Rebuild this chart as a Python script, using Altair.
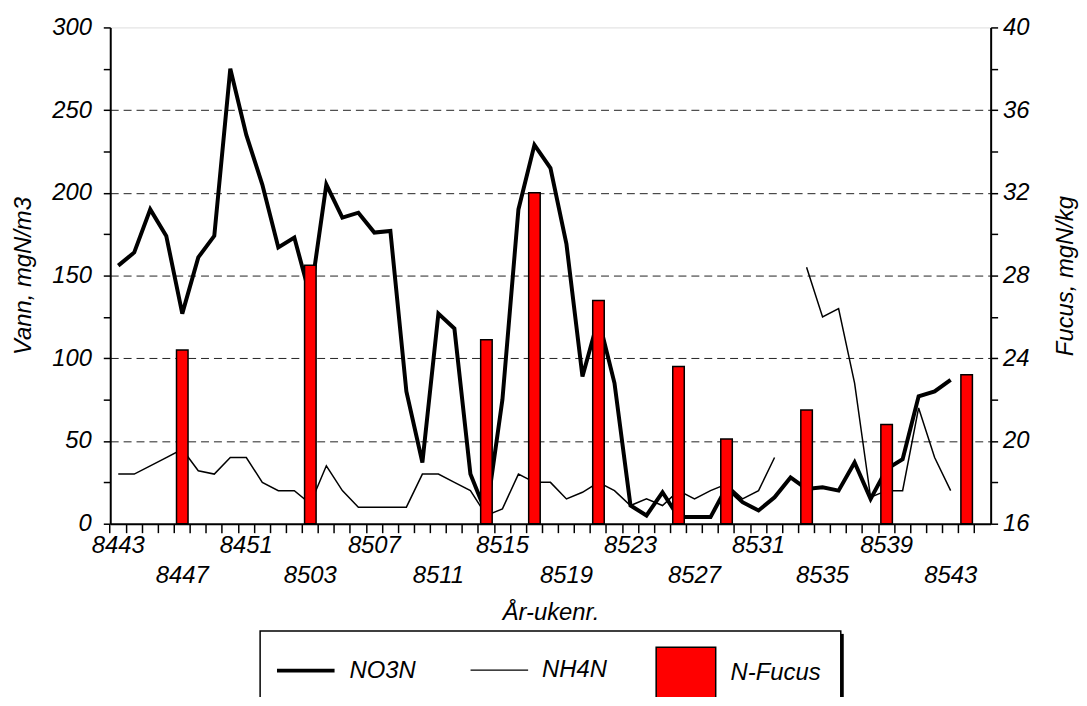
import altair as alt
import pandas as pd
import json

# ---- data ----
WEEKS = [str(8400 + w) for w in range(43, 53)] + [str(8500 + w) for w in range(1, 46)]

NO3N = [156, 164, 190, 174, 127, 161, 174, 275, 235, 205,
        167, 173, 137, 205, 185, 188, 176, 177, 80, 37,
        127, 118, 30, 6, 75, 190, 229, 215, 169, 89,
        124, 85, 11, 5, 19, 4, 4, 4, 22, 13,
        8, 16, 28, 21, 22, 20, 37, 15, 33, 39,
        77, 80, 87, None, None]

NH4N = [30, 30, 35, 40, 45, 32, 30, 40, 40, 25,
        20, 20, 12, 35, 20, 10, 10, 10, 10, 30,
        30, 25, 20, 5, 9, 30, 25, 25, 15, 19,
        25, 20, 11, 15, 11, 20, 15, 20, 24, 15,
        20, 40, None, 155, 125, 130, 85, 16, 20, 20,
        70, 40, 20, None, None]

FUCUS_WEEKS = ['8447', '8503', '8514', '8517', '8521', '8526', '8529', '8534', '8539', '8544']
FUCUS = [24.4, 28.5, 24.9, 32.0, 26.8, 23.6, 20.1, 21.5, 20.8, 23.2]

LABELS_UPPER = ['8443', '8451', '8507', '8515', '8523', '8531', '8539']
LABELS_LOWER = ['8447', '8503', '8511', '8519', '8527', '8535', '8543']

SERIES = ['NO3N', 'NH4N']
BAR_NAME = 'N-Fucus'

# ---- build tables ----
rows = []
for name, vals in (('NO3N', NO3N), ('NH4N', NH4N)):
    seg = 0
    for wk, v in zip(WEEKS, vals):
        if v is None:
            seg += 1
            continue
        rows.append({'week': wk, 'series': name, 'value': v, 'seg': f'{name}-{seg}'})
lines_df = pd.DataFrame(rows)
bars_df = pd.DataFrame({'week': FUCUS_WEEKS, 'fucus': FUCUS, 'name': BAR_NAME})

FONT = 'Liberation Sans'
FS = 24

x_enc = alt.X(
    'week:O',
    scale=alt.Scale(type='band', domain=WEEKS, paddingInner=0, paddingOuter=0),
    axis=alt.Axis(
        bandPosition=0, tickSize=9, tickWidth=1.5, tickColor='black',
        domainColor='black', domainWidth=2,
        labelExpr=("indexof(%s, datum.value) >= 0 ? datum.value : "
                   "(indexof(%s, datum.value) >= 0 ? [' ', datum.value] : '')")
                  % (json.dumps(LABELS_UPPER), json.dumps(LABELS_LOWER)),
        labelAngle=0, labelAlign='center', labelBaseline='top', labelLineHeight=30,
        labelPadding=1, labelOverlap=False, labelFont=FONT, labelFontSize=FS,
        labelFontStyle='italic', labelColor='black',
        title='År-ukenr.', titleFont=FONT, titleFontSize=FS, titleFontStyle='italic',
        titleFontWeight='normal', titleColor='black', titlePadding=13,
    ),
)

lines = alt.Chart(lines_df).mark_line(color='black').encode(
    x=x_enc,
    y=alt.Y('value:Q', scale=alt.Scale(domain=[0, 300], nice=False),
            axis=alt.Axis(
                orient='left', values=list(range(0, 301, 25)),
                labelExpr="datum.value % 50 == 0 ? datum.label : ''",
                tickSize=7, tickWidth=1.5, tickColor='black',
                domainColor='black', domainWidth=2,
                grid=True, gridDash=[8, 5], gridColor='#222', gridWidth=1,
                gridOpacity={'condition': {'test': 'datum.value % 50 == 0 && datum.value > 0 && datum.value < 300', 'value': 1}, 'value': 0},
                labelPadding=12, labelFont=FONT, labelFontSize=FS, labelFontStyle='italic',
                labelColor='black',
                title='Vann, mgN/m3', titleFont=FONT, titleFontSize=FS, titleFontStyle='italic',
                titleFontWeight='normal', titleColor='black', titlePadding=16,
            )),
    strokeWidth=alt.StrokeWidth(
        'series:N', scale=alt.Scale(domain=SERIES, range=[4, 1.5]),
        legend=alt.Legend(
            orient='none', legendX=166, legendY=617, direction='horizontal', title=None,
            symbolType='stroke', symbolSize=3364, symbolStrokeColor='black',
            labelFont=FONT, labelFontSize=FS, labelFontStyle='italic', labelColor='black',
            labelOffset=13, columnPadding=52, padding=0,
        )),
    detail='seg:N',
)

bars = alt.Chart(bars_df).mark_bar(stroke='black', strokeWidth=1.5,
                                   width=alt.RelativeBandSize(0.72)).encode(
    x=x_enc,
    y=alt.Y('fucus:Q', scale=alt.Scale(domain=[16, 40], nice=False, zero=False),
            axis=alt.Axis(
                orient='right', values=list(range(16, 41, 2)),
                labelExpr="datum.value % 4 == 0 ? datum.label : ''",
                tickSize=7, tickWidth=1.5, tickColor='black',
                domainColor='black', domainWidth=2, grid=False,
                labelPadding=5, labelFont=FONT, labelFontSize=FS, labelFontStyle='italic',
                labelColor='black',
                title='Fucus, mgN/kg', titleAngle=270, titleBaseline='top',
                titleFont=FONT, titleFontSize=FS,
                titleFontStyle='italic', titleFontWeight='normal', titleColor='black',
                titlePadding=25,
            )),
    y2=alt.datum(16),
    fill=alt.Fill('name:N', scale=alt.Scale(domain=[BAR_NAME], range=['#ff0000']),
                  legend=alt.Legend(
                      orient='none', legendX=549, legendY=619, title=None,
                      symbolType='M-1,-0.85H1V0.85H-1Z', symbolSize=3600,
                      symbolStrokeColor='black', symbolStrokeWidth=1.5, symbolOpacity=1,
                      labelFont=FONT, labelFontSize=FS, labelFontStyle='italic',
                      labelColor='black', labelOffset=14, padding=0,
                  )),
)

box_df = pd.DataFrame({'k': [0]})
legend_box = alt.Chart(box_df).mark_rect(filled=False, stroke='black', strokeWidth=1.5).encode(
    x=alt.value(151), x2=alt.value(736), y=alt.value(608), y2=alt.value(720))
legend_shadow = alt.Chart(box_df).mark_rect(color='black').encode(
    x=alt.value(736), x2=alt.value(739), y=alt.value(611), y2=alt.value(720))

chart = alt.layer(lines, bars, legend_box, legend_shadow).resolve_scale(
    y='independent'
).properties(
    width=887, height=500,
    autosize=alt.AutoSizeParams(type='none'),
    padding={'left': 103, 'top': 17, 'right': 89, 'bottom': 172},
).configure_view(
    stroke='black', strokeWidth=2
).configure(font=FONT, background='white')

chart.save('out.html', embed_options={'renderer': 'svg', 'actions': False})
